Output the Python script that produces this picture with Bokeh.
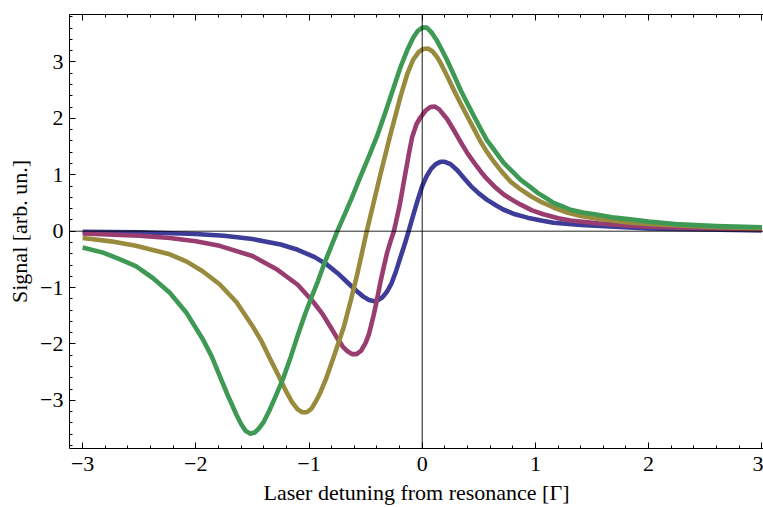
from bokeh.plotting import figure
from bokeh.models import Range1d, FixedTicker, LinearAxis, Span
from bokeh.embed import file_html
from bokeh.resources import INLINE

# ---- data ----
x_ticks = [-3, -2, -1, 0, 1, 2, 3]
x_tick_labels = ["\u22123", "\u22122", "\u22121", "0", "1", "2", "3"]
y_ticks = [-3, -2, -1, 0, 1, 2, 3]
y_tick_labels = ["\u22123", "\u22122", "\u22121", "0", "1", "2", "3"]

blue_x = [-3.0, -2.5, -2.0, -1.75, -1.5, -1.25, -1.1, -0.95, -0.85, -0.75, -0.66, -0.58,
          -0.52, -0.47, -0.43, -0.39, -0.35, -0.31, -0.27, -0.23, -0.19, -0.15, -0.12,
          -0.08, -0.04, 0.0, 0.04, 0.08, 0.12, 0.16, 0.2, 0.25, 0.31, 0.37, 0.43, 0.5,
          0.57, 0.65, 0.72, 0.82, 0.93, 1.05, 1.16, 1.4, 1.7, 2.0, 2.5, 3.0]
blue_y = [-0.01, -0.02, -0.05, -0.08, -0.14, -0.235, -0.33, -0.46, -0.58, -0.74, -0.91, -1.06,
          -1.16, -1.22, -1.24, -1.22, -1.17, -1.07, -0.92, -0.70, -0.45, -0.20, 0.0,
          0.28, 0.55, 0.80, 0.98, 1.11, 1.19, 1.23, 1.23, 1.19, 1.08, 0.94, 0.80, 0.67,
          0.56, 0.46, 0.38, 0.30, 0.24, 0.19, 0.15, 0.11, 0.08, 0.05, 0.03, 0.015]

magenta_x = [-3.0, -2.5, -2.23, -2.0, -1.79, -1.5, -1.29, -1.1, -0.96, -0.88, -0.81, -0.75,
             -0.7, -0.66, -0.62, -0.58, -0.54, -0.5, -0.47, -0.43, -0.4, -0.37, -0.34,
             -0.31, -0.28, -0.25, -0.2, -0.16, -0.12, -0.09, -0.05, -0.015, 0.03, 0.07,
             0.11, 0.15, 0.22, 0.28, 0.34, 0.4, 0.46, 0.52, 0.57, 0.65, 0.72, 0.8, 0.87,
             0.97, 1.07, 1.2, 1.31, 1.55, 1.8, 2.0, 2.5, 3.0]
magenta_y = [-0.04, -0.08, -0.12, -0.18, -0.26, -0.44, -0.67, -0.95, -1.26, -1.47, -1.70, -1.90,
             -2.05, -2.13, -2.18, -2.18, -2.12, -1.98, -1.82, -1.50, -1.22, -0.91, -0.64,
             -0.38, -0.18, 0.0, 0.45, 0.90, 1.35, 1.66, 1.90, 2.02, 2.14, 2.20,
             2.21, 2.16, 1.99, 1.79, 1.58, 1.38, 1.21, 1.05, 0.93, 0.77, 0.65, 0.55, 0.47,
             0.37, 0.30, 0.23, 0.19, 0.14, 0.10, 0.08, 0.05, 0.03]

olive_x = [-3.0, -2.75, -2.53, -2.23, -2.08, -1.94, -1.79, -1.64, -1.5, -1.42, -1.35, -1.27,
           -1.2, -1.15, -1.1, -1.06, -1.02, -0.98, -0.94, -0.9, -0.85, -0.77, -0.69, -0.63,
           -0.57, -0.49, -0.43, -0.37, -0.28, -0.19, -0.13, -0.08, -0.03, 0.01, 0.05, 0.09,
           0.13, 0.16, 0.22, 0.28, 0.34, 0.4, 0.46, 0.515, 0.57, 0.63, 0.7, 0.78, 0.87,
           0.96, 1.06, 1.16, 1.28, 1.4, 1.55, 1.8, 2.0, 2.5, 3.0]
olive_y = [-0.12, -0.18, -0.26, -0.41, -0.54, -0.71, -0.94, -1.26, -1.68, -1.95, -2.24, -2.56,
           -2.85, -3.03, -3.16, -3.21, -3.21, -3.15, -3.02, -2.86, -2.62, -2.16, -1.68, -1.22,
           -0.73, 0.0, 0.50, 1.0, 1.72, 2.40, 2.80, 3.04, 3.18, 3.23, 3.24, 3.19,
           3.09, 2.99, 2.75, 2.50, 2.26, 2.03, 1.80, 1.59, 1.41, 1.24, 1.06, 0.88, 0.74,
           0.62, 0.51, 0.42, 0.33, 0.27, 0.22, 0.16, 0.13, 0.08, 0.05]

green_x = [-3.0, -2.82, -2.68, -2.53, -2.38, -2.23, -2.085, -1.94, -1.86, -1.79, -1.72, -1.64,
           -1.6, -1.56, -1.52, -1.48, -1.44, -1.4, -1.35, -1.3, -1.23, -1.16, -1.1, -1.04,
           -0.98, -0.92, -0.87, -0.81, -0.75, -0.68, -0.62, -0.545, -0.47, -0.4, -0.33,
           -0.25, -0.19, -0.13, -0.08, -0.04, 0.0, 0.04, 0.08, 0.13, 0.18, 0.22, 0.28,
           0.34, 0.4, 0.46, 0.52, 0.57, 0.65, 0.72, 0.8, 0.87, 0.95, 1.02, 1.1, 1.16,
           1.24, 1.31, 1.42, 1.55, 1.7, 1.84, 2.0, 2.28, 2.6, 3.0]
green_y = [-0.29, -0.38, -0.49, -0.62, -0.83, -1.09, -1.44, -1.91, -2.22, -2.56, -2.90, -3.26,
           -3.42, -3.54, -3.59, -3.57, -3.49, -3.38, -3.18, -2.95, -2.62, -2.22, -1.85, -1.50,
           -1.18, -0.88, -0.60, -0.30, 0.0, 0.32, 0.60, 0.97, 1.33, 1.68, 2.08,
           2.56, 2.92, 3.22, 3.43, 3.55, 3.61, 3.61, 3.53, 3.38, 3.19, 3.03, 2.77,
           2.50, 2.26, 2.03, 1.80, 1.62, 1.40, 1.21, 1.05, 0.91, 0.79, 0.68, 0.58, 0.50,
           0.44, 0.38, 0.33, 0.29, 0.24, 0.21, 0.17, 0.12, 0.09, 0.07]

series = [
    (blue_x, blue_y, "#3d3d99"),
    (magenta_x, magenta_y, "#993d71"),
    (olive_x, olive_y, "#998b3d"),
    (green_x, green_y, "#3d9954"),
]

FONT = "Liberation Serif"
FS = "22px"

p = figure(width=763, height=507,
           x_range=Range1d(-3.116, 3.015), y_range=Range1d(-3.853, 3.842),
           output_backend="svg", toolbar_location=None,
           min_border_left=69, min_border_right=0, min_border_top=14, min_border_bottom=57,
           x_axis_label="Laser detuning from resonance [\u0393]",
           y_axis_label="Signal [arb. un.]")
p.outline_line_color = None
p.grid.visible = False
p.background_fill_color = "white"
p.border_fill_color = "white"

minor = [round(-3.8 + 0.2 * i, 1) for i in range(39)]

for ax, ticks, labels in ((p.xaxis[0], x_ticks, x_tick_labels), (p.yaxis[0], y_ticks, y_tick_labels)):
    ax.ticker = FixedTicker(ticks=ticks, minor_ticks=minor)
    ax.major_label_overrides = {t: l for t, l in zip(ticks, labels)}
    ax.major_tick_in = 6
    ax.major_tick_out = 0
    ax.minor_tick_in = 3
    ax.minor_tick_out = 0
    ax.axis_line_color = "black"
    ax.major_tick_line_color = "black"
    ax.minor_tick_line_color = "black"
    ax.major_label_text_font = FONT
    ax.major_label_text_font_size = FS
    ax.major_label_text_color = "black"
    ax.axis_label_text_font = FONT
    ax.axis_label_text_font_size = FS
    ax.axis_label_text_font_style = "normal"
    ax.axis_label_text_color = "black"
    ax.major_label_standoff = 6

p.xaxis[0].major_label_standoff = 8
p.xaxis[0].axis_label_standoff = 6
p.yaxis[0].axis_label_standoff = 5

top = LinearAxis(ticker=FixedTicker(ticks=x_ticks, minor_ticks=minor),
                 major_tick_in=6, major_tick_out=0, minor_tick_in=3, minor_tick_out=0,
                 major_label_text_color=None, major_label_text_font_size="1px",
                 major_label_standoff=0,
                 axis_line_color="black", major_tick_line_color="black",
                 minor_tick_line_color="black")
p.add_layout(top, "above")

for xs, ys, c in series:
    p.line(xs, ys, line_color=c, line_width=4.6, line_join="round")

p.add_layout(Span(location=0, dimension="width", line_color="black", line_width=1, line_alpha=0.85))
p.add_layout(Span(location=0, dimension="height", line_color="black", line_width=1, line_alpha=0.9))

open("out.html", "w").write(file_html(p, INLINE))
